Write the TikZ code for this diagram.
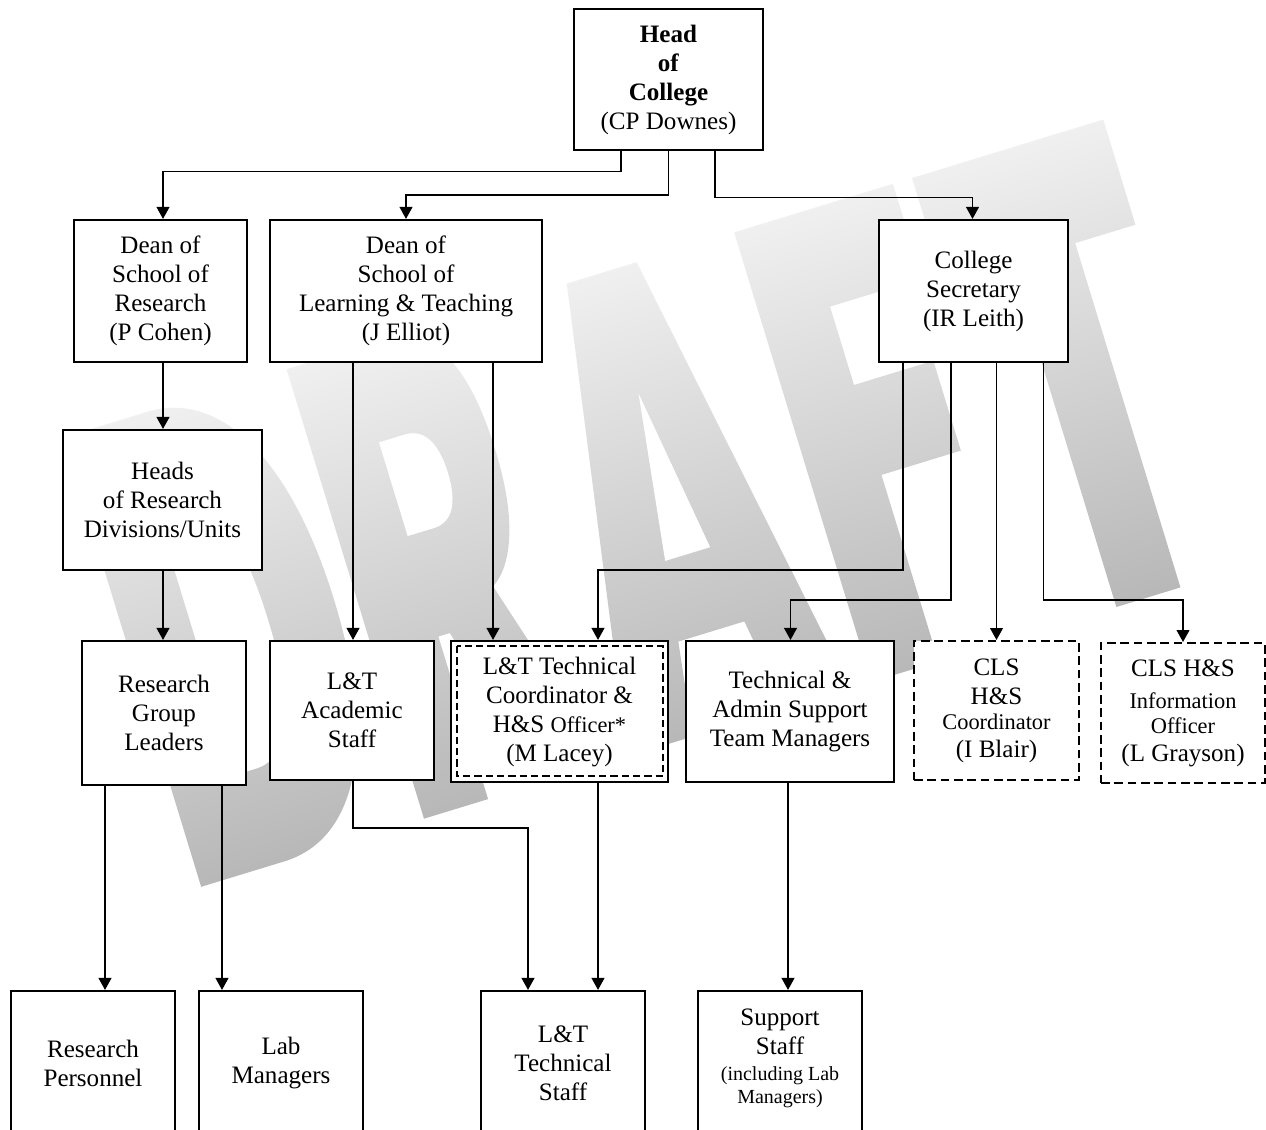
\documentclass[tikz,border=0pt]{standalone}
\usepackage{fontspec}
\setmainfont{Liberation Serif}
\usetikzlibrary{arrows.meta,calc}
\newcommand{\fsnormal}{\fontsize{18.8}{21.75}\selectfont}
\newcommand{\fssmall}{\fontsize{16.8}{19}\selectfont}
\newcommand{\fstiny}{\fontsize{15}{17}\selectfont}
\tikzset{
 box/.style={draw, line width=1.55pt, fill=white, align=center, inner sep=0pt, font=\fsnormal},
 dbox/.style={box, line width=1.45pt, dash pattern=on 6.5pt off 3.5pt},
 arr/.style={line width=1.4pt, -{Triangle[length=9pt,width=9.5pt]}},
 wm/.style={top color=black!6, bottom color=black!28},
}
\begin{document}
\begin{tikzpicture}[x=0.75pt,y=-0.75pt]
\useasboundingbox (0,0) rectangle (1266,1129);
\clip (0,0) rectangle (1266,1129);
\fill[white] (0,0) rectangle (1266,1129);
% DRAFT watermark
\begin{scope}[transform canvas={shift={(912,178)},rotate=17}]
 \shade[wm]
  (-887,0) -- (-800,0) .. controls (-722,0) and (-676,90) .. (-676,235) .. controls (-676,380) and (-722,470) .. (-800,470) -- (-887,470) -- cycle
  (-654,0) -- (-560,0) .. controls (-505,0) and (-478,40) .. (-478,140) .. controls (-478,215) and (-498,255) .. (-520,268) -- (-462,470) -- (-532,470) -- (-575,300) -- (-587,300) -- (-587,470) -- (-654,470) -- cycle
  (-361,0) -- (-288,0) -- (-208,470) -- (-276,470) -- (-290,375) -- (-359,375) -- (-373,470) -- (-441,470) -- cycle
  (-186,0) -- (-20,0) -- (-20,99) -- (-116,99) -- (-116,181) -- (-33,181) -- (-33,275) -- (-116,275) -- (-116,470) -- (-186,470) -- cycle
  (0,0) -- (200,0) -- (200,110) -- (137,110) -- (137,470) -- (70,470) -- (70,110) -- (0,110) -- cycle;
 \fill[white]
  (-820,97) -- (-800,97) .. controls (-765,97) and (-745,140) .. (-745,235) .. controls (-745,330) and (-765,373) .. (-800,373) -- (-820,373) -- cycle
  (-587,97) -- (-560,97) .. controls (-540,97) and (-530,115) .. (-530,146) .. controls (-530,178) and (-540,195) .. (-560,195) -- (-587,195) -- cycle
  (-324.5,126) -- (-301,294) -- (-348,294) -- cycle;
\end{scope}
% boxes
\node[box, minimum width=141.75pt, minimum height=105.75pt] (head) at (668.5,79.5) {\textbf{Head}\\\textbf{of}\\\textbf{College}\\(CP Downes)};
\node[box, minimum width=129.75pt, minimum height=106.5pt] (deanR) at (160.5,291) {Dean of\\School of\\Research\\(P Cohen)};
\node[box, minimum width=204pt, minimum height=106.5pt] (deanLT) at (406,291) {Dean of\\School of\\Learning \& Teaching\\(J Elliot)};
\node[box, minimum width=141.75pt, minimum height=106.5pt] (sec) at (973.5,291) {College\\Secretary\\(IR Leith)};
\node[box, minimum width=149.25pt, minimum height=105pt] (heads) at (162.5,500) {Heads\\of Research\\Divisions/Units};
\node[box, minimum width=123pt, minimum height=108pt] (rgl) at (164,713) {Research\\Group\\Leaders};
\node[box, minimum width=123pt, minimum height=104.25pt] (ltacad) at (352,710.5) {L\&T\\Academic\\Staff};
\node[box, minimum width=162.75pt, minimum height=105.75pt] (ltc) at (559.5,711.5) {L\&T Technical\\Coordinator \&\\H\&S {\fssmall Officer*}\\(M Lacey)};
\draw[line width=1.3pt, dash pattern=on 5.5pt off 3pt] ($(ltc.north west)+(7,6)$) rectangle ($(ltc.south east)+(-6,-7)$);
\node[box, minimum width=156pt, minimum height=105.75pt] (tam) at (790,711.5) {Technical \&\\Admin Support\\Team Managers};
\node[dbox, minimum width=123.75pt, minimum height=104.25pt] (clsc) at (996.5,710.5) {CLS\\H\&S\\[-3pt]{\fssmall Coordinator}\\[-0.75pt](I Blair)};
\node[dbox, minimum width=123pt, minimum height=105pt] (clsi) at (1183,713) {CLS H\&S\\[2.25pt]{\fssmall Information}\\[-3pt]{\fssmall Officer}\\[-0.75pt](L Grayson)};
\node[box, minimum width=123pt, minimum height=108pt] (rp) at (93,1063) {Research\\Personnel};
\node[box, minimum width=123pt, minimum height=108pt] (lm) at (281,1063) {Lab\\Managers};
\node[box, minimum width=123pt, minimum height=108pt] (ltts) at (563,1063) {L\&T\\Technical\\Staff};
\node[box, minimum width=123pt, minimum height=108pt] (ss) at (780,1063) {Support\\Staff\\[-2.25pt]{\fstiny (including Lab}\\[-4.5pt]{\fstiny Managers)}\\[-12pt]\mbox{}};
% connectors
\draw[arr] ($(head.south)+(-47.5,0)$) |- ($(deanR.north)+(2.5,-47.5)$) -- ($(deanR.north)+(2.5,0)$);
\draw[arr] (head.south) |- ($(deanLT.north)+(0,-24)$) -- (deanLT.north);
\draw[arr] ($(head.south)+(46.5,0)$) |- ($(sec.north)+(-1,-21.5)$) -- ($(sec.north)+(-1,0)$);
\draw[arr] ($(deanR.south)+(2.5,0)$) -- ($(heads.north)+(0.5,0)$);
\draw[arr] ($(heads.south)+(0.5,0)$) -- ($(rgl.north)+(-1,0)$);
\draw[arr] ($(deanLT.south)+(-53,0)$) -- ($(ltacad.north)+(1,0)$);
\draw[arr] ($(deanLT.south)+(87,0)$) -- ($(ltc.north)+(-66.5,0)$);
\draw[arr] ($(sec.south)+(-70.5,0)$) |- ($(ltc.north)+(38.5,-70)$) -- ($(ltc.north)+(38.5,0)$);
\draw[arr] ($(sec.south)+(-22.5,0)$) |- ($(tam.north)+(0.5,-40)$) -- ($(tam.north)+(0.5,0)$);
\draw[arr] ($(sec.south)+(23,0)$) -- (clsc.north);
\draw[arr] ($(sec.south)+(70,0)$) |- ($(clsi.north)+(0,-42)$) -- (clsi.north);
\draw[arr] ($(rgl.south)+(-59,0)$) -- ($(rp.north)+(12,0)$);
\draw[arr] ($(rgl.south)+(58,0)$) -- ($(lm.north)+(-59,0)$);
\draw[arr] ($(ltacad.south)+(1,0)$) |- ($(ltts.north)+(-35,-162)$) -- ($(ltts.north)+(-35,0)$);
\draw[arr] ($(ltc.south)+(38.5,0)$) -- ($(ltts.north)+(35,0)$);
\draw[arr] ($(tam.south)+(-2,0)$) -- ($(ss.north)+(8,0)$);
\end{tikzpicture}
\end{document}
